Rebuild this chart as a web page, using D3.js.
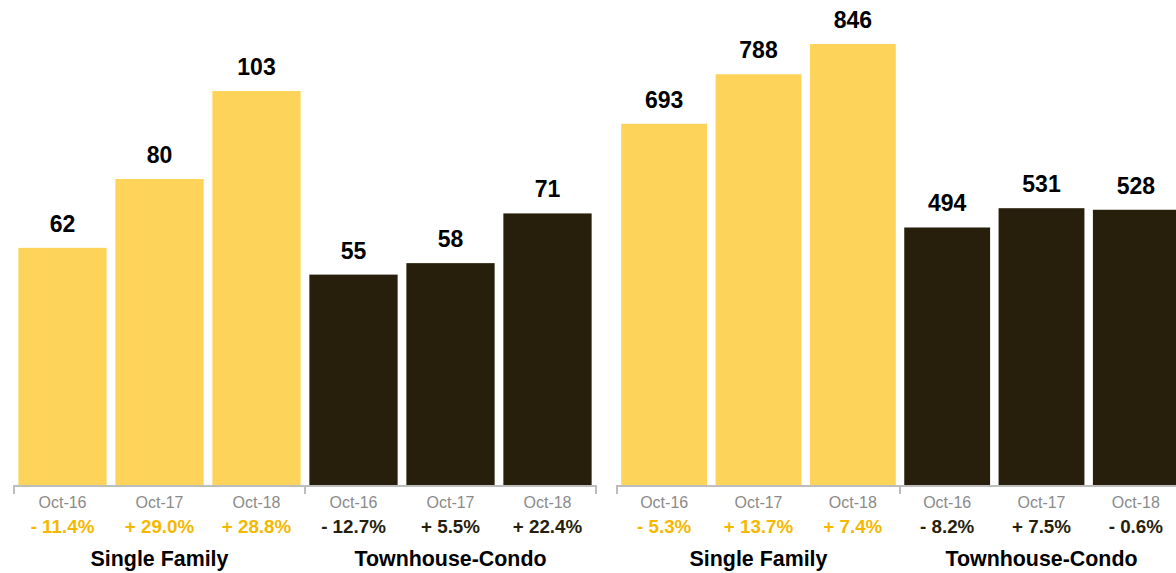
<!DOCTYPE html>
<html><head><meta charset="utf-8">
<script src="https://cdn.jsdelivr.net/npm/d3@7"></script>
<style>body{margin:0;background:#fff}svg{display:block}text{font-family:"Liberation Sans",Arial,Helvetica,sans-serif}</style>
</head><body>
<svg id="c" width="1176" height="573"></svg>
<script>
const periods = ["Oct-16","Oct-17","Oct-18"];
const groups = ["Single Family","Townhouse-Condo"];
const leftSingle = [62,80,103];
const leftTown = [55,58,71];
const leftSinglePct = ["- 11.4%","+ 29.0%","+ 28.8%"];
const leftTownPct = ["- 12.7%","+ 5.5%","+ 22.4%"];
const rightSingle = [693,788,846];
const rightTown = [494,531,528];
const rightSinglePct = ["- 5.3%","+ 13.7%","+ 7.4%"];
const rightTownPct = ["- 8.2%","+ 7.5%","- 0.6%"];

const colors = {bar:["#FED35A","#271E0C"], pct:["#F5B800","#271E0C"]};
const svg = d3.select("#c");
const base = 485;

function panel(x0, x1, topY, single, town, sPct, tPct){
  const items = [];
  groups.forEach((g,gi)=>{
    const vals = gi===0?single:town, pcts = gi===0?sPct:tPct;
    periods.forEach((p,pi)=>items.push({key:g+"|"+p, g, gi, p, v:vals[pi], pct:pcts[pi]}));
  });
  const x = d3.scaleBand().domain(items.map(d=>d.key)).range([x0,x1]).paddingInner(0.09).paddingOuter(0.045);
  const y = d3.scaleLinear().domain([0, d3.max(items,d=>d.v)]).range([base, topY]);
  const g = svg.append("g");
  g.selectAll("rect").data(items).join("rect")
    .attr("x",d=>x(d.key)).attr("width",x.bandwidth())
    .attr("y",d=>y(d.v)).attr("height",d=>base-y(d.v))
    .attr("fill",d=>colors.bar[d.gi]);
  g.selectAll("text.val").data(items).join("text").attr("class","val")
    .attr("x",d=>x(d.key)+x.bandwidth()/2).attr("y",d=>y(d.v)-16)
    .attr("text-anchor","middle").attr("font-size",23).attr("font-weight","bold").attr("fill","#000")
    .text(d=>d.v);
  g.selectAll("text.per").data(items).join("text").attr("class","per")
    .attr("x",d=>x(d.key)+x.bandwidth()/2).attr("y",base+23)
    .attr("text-anchor","middle").attr("font-size",16).attr("fill","#8a8a8a")
    .text(d=>d.p);
  g.selectAll("text.pct").data(items).join("text").attr("class","pct")
    .attr("x",d=>x(d.key)+x.bandwidth()/2).attr("y",base+48)
    .attr("text-anchor","middle").attr("font-size",18.8).attr("font-weight","bold").attr("fill",d=>colors.pct[d.gi])
    .text(d=>d.pct);
  // axis bracket
  const step = x.step();
  const edges = [x0, x0+3*step, x1];
  g.append("line").attr("x1",x0).attr("x2",x1).attr("y1",base+1).attr("y2",base+1)
    .attr("stroke","#bdbdbd").attr("stroke-width",2);
  g.selectAll("line.tk").data(edges).join("line").attr("class","tk")
    .attr("x1",d=>d).attr("x2",d=>d).attr("y1",base).attr("y2",base+9)
    .attr("stroke","#bdbdbd").attr("stroke-width",2);
  groups.forEach((gn,gi)=>{
    g.append("text").attr("x",(edges[gi]+edges[gi+1])/2).attr("y",base+81)
      .attr("text-anchor","middle").attr("font-size",21.4).attr("font-weight","bold").attr("fill","#000")
      .text(gn);
  });
}
panel(14, 596, 91, leftSingle, leftTown, leftSinglePct, leftTownPct);
panel(617, 1183, 44, rightSingle, rightTown, rightSinglePct, rightTownPct);
</script>
</body></html>
